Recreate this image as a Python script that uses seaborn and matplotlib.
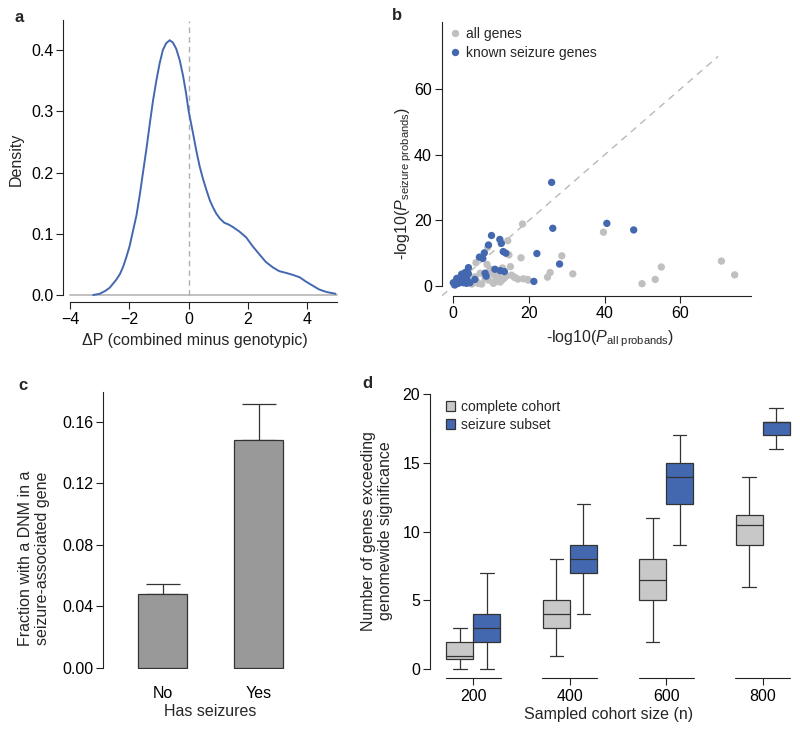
import numpy as np
import pandas as pd
import matplotlib
matplotlib.use("Agg")
import matplotlib.pyplot as plt
import matplotlib.transforms as mtransforms
import seaborn as sns

# ---------------- data ----------------
# panel a : density of delta P (curve)
dens_x = [-3.22, -3.0, -2.8, -2.66, -2.44, -2.32, -2.21, -2.10, -1.99, -1.88,
          -1.76, -1.65, -1.54, -1.42, -1.31, -1.20, -1.09, -0.98, -0.87, -0.76,
          -0.64, -0.53, -0.42, -0.30, -0.19, -0.09, 0.0, 0.13, 0.26, 0.37, 0.48,
          0.60, 0.71, 0.82, 0.93, 1.05, 1.20, 1.35, 1.49, 1.70, 1.94, 2.15, 2.39,
          2.60, 2.84, 3.05, 3.29, 3.50, 3.74, 3.95, 4.19, 4.40, 4.64, 4.95]
dens_y = [0.0, 0.002, 0.007, 0.012, 0.025, 0.034, 0.046, 0.062, 0.080, 0.104,
          0.130, 0.163, 0.200, 0.240, 0.280, 0.318, 0.350, 0.378, 0.400, 0.411,
          0.416, 0.412, 0.402, 0.383, 0.358, 0.330, 0.300, 0.268, 0.235, 0.210, 0.190,
          0.171, 0.155, 0.143, 0.133, 0.125, 0.118, 0.115, 0.111, 0.104, 0.094, 0.080, 0.066,
          0.054, 0.045, 0.039, 0.036, 0.033, 0.029, 0.022, 0.015, 0.009, 0.005, 0.002]
a_xlim_line = [-4, 5]
a_vline_top = 0.447

# panel b : -log10 P, all probands vs seizure probands
all_x = [18.3, 14.4, 14.7, 15.1, 17.9, 18.5, 19.6, 16.1, 17.1, 24.9, 25.6, 28.7,
         31.6, 39.7, 49.9, 53.4, 55.0, 70.9, 74.4, 6.0, 8.9, 9.1, 9.7, 3.5, 6.2,
         7.5, 8.4, 9.3, 11.0, 11.5, 12.8, 13.4, 14.1, 15.4, 16.3, 7.1, 9.3, 10.8,
         4.9, 5.7, 2.2, 11.9, 13.0, 6.6, 1.5, 3.0, 12.4, 19.8, 10.6]
all_y = [18.9, 13.8, 9.5, 5.9, 8.6, 2.2, 2.0, 2.7, 2.1, 2.7, 4.1, 9.2,
         3.7, 16.4, 0.7, 2.0, 5.8, 7.6, 3.4, 7.1, 6.6, 11.8, 5.2, 1.8, 1.3,
         0.6, 2.3, 1.8, 1.3, 1.5, 1.8, 2.3, 3.1, 3.3, 2.6, 3.9, 4.1, 3.3,
         0.6, 2.8, 1.3, 3.4, 5.5, 0.8, 2.5, 3.0, 1.2, 1.8, 0.8]
seiz_x = [26.0, 26.3, 40.6, 47.7, 22.1, 28.1, 21.3, 10.1, 12.3, 12.7, 9.3, 13.2,
          13.9, 8.2, 6.9, 7.8, 8.4, 8.7, 11.0, 12.4, 13.5, 4.0, 4.0, 5.7, 3.1,
          2.2, 0.9, 0.0, 1.3, 2.6, 3.5, 4.4, 0.4, 1.8, 2.8, 1.0, 3.6]
seiz_y = [31.6, 17.6, 19.1, 17.1, 9.9, 6.7, 1.4, 15.4, 14.2, 13.0, 12.5, 10.5,
          10.0, 10.1, 8.8, 8.4, 3.9, 3.0, 5.1, 4.7, 4.4, 5.6, 3.7, 2.0, 4.1,
          3.6, 2.3, 1.0, 0.8, 1.0, 0.8, 1.0, 0.3, 1.6, 2.6, 1.5, 2.2]
b_groups = ["all genes", "known seizure genes"]
b_diag = [-3, 70]

# panel c : fraction with a DNM in a seizure-associated gene
c_groups = ["No", "Yes"]
c_values = [0.0477, 0.148]
c_upper = [0.0544, 0.1713]

# panel d : number of genes exceeding genomewide significance
d_sizes = ["200", "400", "600", "800"]
d_cohorts = ["complete cohort", "seizure subset"]
d_complete_lo = [0, 1, 2, 6]
d_complete_q1 = [0.75, 3, 5, 9]
d_complete_med = [1, 4, 6.5, 10.5]
d_complete_q3 = [2, 5, 8, 11.2]
d_complete_hi = [3, 8, 11, 14]
d_seizure_lo = [0, 4, 9, 16]
d_seizure_q1 = [2, 7, 12, 17]
d_seizure_med = [3, 8, 14, 18]
d_seizure_q3 = [4, 9, 15, 18]
d_seizure_hi = [7, 12, 17, 19]

# ---------------- style ----------------
BLUE = "#4468b0"
LGRAY = "#c0c0c0"
BOXGRAY = "#c8c8c8"
BARGRAY = "#999999"
INK = "#222222"

sns.set_style("ticks")
plt.rcParams["font.family"] = ["Liberation Sans", "DejaVu Sans"]
plt.rcParams["mathtext.fontset"] = "custom"
plt.rcParams["mathtext.rm"] = "Liberation Sans"
plt.rcParams["mathtext.it"] = "Liberation Sans:italic"
plt.rcParams["axes.edgecolor"] = INK
plt.rcParams["axes.linewidth"] = 0.8
plt.rcParams["xtick.color"] = INK
plt.rcParams["ytick.color"] = INK
plt.rcParams["xtick.labelcolor"] = "black"
plt.rcParams["ytick.labelcolor"] = "black"
plt.rcParams["xtick.labelsize"] = 11.5
plt.rcParams["ytick.labelsize"] = 11.5
plt.rcParams["xtick.major.size"] = 5
plt.rcParams["ytick.major.size"] = 5
plt.rcParams["xtick.major.width"] = 0.8
plt.rcParams["ytick.major.width"] = 0.8
plt.rcParams["xtick.major.pad"] = 2.5
plt.rcParams["ytick.major.pad"] = 2

W, H = 800, 732
fig = plt.figure(figsize=(W / 100, H / 100), dpi=100)


def axes_px(left, top, right, bottom):
    return fig.add_axes([left / W, 1 - bottom / H, (right - left) / W, (bottom - top) / H])


def ftext(x, y, s, **kw):
    kw.setdefault("ha", "center")
    kw.setdefault("va", "center")
    kw.setdefault("fontsize", 11.5)
    fig.text(x / W, 1 - y / H, s, **kw)


def clean(ax):
    for s in ("top", "right"):
        ax.spines[s].set_visible(False)


# ---------------- panel a ----------------
ax_a = axes_px(63, 20, 340, 302)
ax_a.plot(a_xlim_line, [0, 0], color="#b5b5b5", lw=1.2, zorder=1)
ax_a.plot([0, 0], [0, a_vline_top], color="#b0b0b0", lw=1.0, ls=(0, (4, 3)), zorder=1)
sns.lineplot(x=dens_x, y=dens_y, sort=False, color=BLUE, lw=1.4, ax=ax_a, zorder=3)
ax_a.set_xlim(-4.236, 5.10)
ax_a.set_ylim(-0.0114, 0.449)
clean(ax_a)
ax_a.spines["left"].set_bounds(0, 0.449)
ax_a.spines["bottom"].set_bounds(-4, 5)
ax_a.set_xticks([-4, -2, 0, 2, 4])
ax_a.set_yticks([0, 0.1, 0.2, 0.3, 0.4])
ax_a.set_yticklabels(["0.0", "0.1", "0.2", "0.3", "0.4"])
ax_a.set_xlabel("")
ax_a.set_ylabel("")
ftext(16, 159, "Density", rotation=90)
ftext(195, 340, "ΔP (combined minus genotypic)")

# ---------------- panel b ----------------
ax_b = axes_px(441.7, 21.7, 760, 296)
df_b = pd.DataFrame({
    "x": all_x + seiz_x,
    "y": all_y + seiz_y,
    "group": [b_groups[0]] * len(all_x) + [b_groups[1]] * len(seiz_x),
})
ax_b.plot(b_diag, b_diag, color="#b8b8b8", lw=1.0, ls=(0, (5, 4)), zorder=1)
sns.scatterplot(data=df_b, x="x", y="y", hue="group", hue_order=b_groups,
                palette=[LGRAY, BLUE], s=28, edgecolor="none", linewidth=0,
                ax=ax_b, zorder=3)
ax_b.set_xlim(-3.07, 81.1)
ax_b.set_ylim(-3.05, 80.6)
clean(ax_b)
ax_b.spines["left"].set_bounds(0, 80.6)
ax_b.spines["bottom"].set_bounds(0, 78.8)
ax_b.set_xticks([0, 20, 40, 60])
ax_b.set_yticks([0, 20, 40, 60])
ax_b.set_xlabel("")
ax_b.set_ylabel("")
sns.move_legend(ax_b, "upper left", bbox_to_anchor=(449 / W, 1 - 27 / H),
                bbox_transform=fig.transFigure, title=None, frameon=False,
                fontsize=10, handlelength=0.8, handletextpad=0.45,
                labelspacing=0.35, borderpad=0, borderaxespad=0, markerscale=1.0)
ftext(404, 183, r"-log10($\mathit{P}_{\mathrm{seizure\ probands}}$)", rotation=90)
ftext(610, 339, r"-log10($\mathit{P}_{\mathrm{all\ probands}}$)")

# ---------------- panel c ----------------
ax_c = axes_px(103.3, 391.7, 300, 669)
sns.barplot(x=c_groups, y=c_values, color=BARGRAY, width=0.51, edgecolor="#333333",
            linewidth=0.9, saturation=1, errorbar=None, ax=ax_c, zorder=2)
c_err = [u - v for u, v in zip(c_upper, c_values)]
ax_c.errorbar(x=range(len(c_groups)), y=c_values, yerr=[[0] * len(c_err), c_err],
              fmt="none", ecolor="#333333", elinewidth=0.9, capsize=12, capthick=0.9,
              zorder=1)
ax_c.set_xlim(-0.62, 1.43)
ax_c.set_ylim(-0.00085, 0.1795)
clean(ax_c)
ax_c.spines["bottom"].set_visible(False)
ax_c.spines["left"].set_bounds(0, 0.1795)
ax_c.set_yticks([0, 0.04, 0.08, 0.12, 0.16])
ax_c.set_yticklabels(["0.00", "0.04", "0.08", "0.12", "0.16"])
ax_c.tick_params(axis="x", length=0, pad=12)
ax_c.set_xlabel("")
ax_c.set_ylabel("")
ftext(34, 558, "Fraction with a DNM in a\nseizure-associated gene", rotation=90,
      linespacing=1.15)
ftext(210, 711, "Has seizures")

# ---------------- panel d ----------------
ax_d = axes_px(430, 390, 795, 678.3)
rows = []
for i, size in enumerate(d_sizes):
    for v in (d_complete_lo[i], d_complete_q1[i], d_complete_med[i],
              d_complete_q3[i], d_complete_hi[i]):
        rows.append((size, d_cohorts[0], v))
    for v in (d_seizure_lo[i], d_seizure_q1[i], d_seizure_med[i],
              d_seizure_q3[i], d_seizure_hi[i]):
        rows.append((size, d_cohorts[1], v))
df_d = pd.DataFrame(rows, columns=["size", "cohort", "value"])
sns.boxplot(data=df_d, x="size", y="value", hue="cohort", order=d_sizes,
            hue_order=d_cohorts, palette=[BOXGRAY, BLUE], saturation=1,
            width=0.56, gap=0, dodge=True, whis=np.inf, linecolor="#333333",
            linewidth=0.9, ax=ax_d)
ax_d.set_xlim(-0.449, 3.335)
ax_d.set_ylim(-0.654, 20.29)
clean(ax_d)
ax_d.spines["bottom"].set_visible(False)
ax_d.spines["left"].set_bounds(0, 20)
ax_d.set_yticks([0, 5, 10, 15, 20])
trans = mtransforms.blended_transform_factory(ax_d.transData, ax_d.transAxes)
for i in range(len(d_sizes)):
    ax_d.plot([i - 0.285, i + 0.285], [0, 0], color=INK, lw=0.8,
              transform=trans, clip_on=False)
ax_d.set_xlabel("")
ax_d.set_ylabel("")
sns.move_legend(ax_d, "upper left", bbox_to_anchor=(445.5 / W, 1 - 400 / H),
                bbox_transform=fig.transFigure, title=None, frameon=False,
                fontsize=10, handlelength=0.7, handleheight=0.7,
                handletextpad=0.45, labelspacing=0.3, borderpad=0,
                borderaxespad=0)
ftext(377, 531, "Number of genes exceeding\ngenomewide significance", rotation=90,
      linespacing=1.15)
ftext(609, 715, "Sampled cohort size (n)")

# ---------------- panel letters ----------------
ftext(19, 17, "a", fontweight="bold", fontsize=12)
ftext(397, 16, "b", fontweight="bold", fontsize=12)
ftext(23, 385, "c", fontweight="bold", fontsize=12)
ftext(367, 384, "d", fontweight="bold", fontsize=12)

fig.savefig("out.png", dpi=100)
